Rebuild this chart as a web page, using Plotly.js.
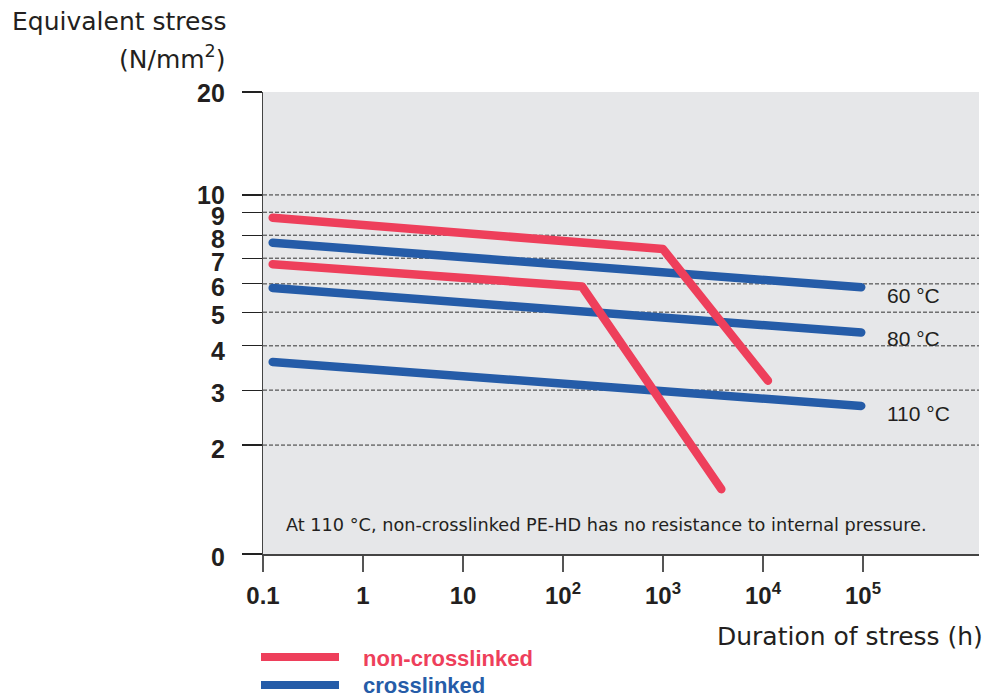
<!DOCTYPE html>
<html>
<head>
<meta charset="utf-8">
<script src="https://cdn.plot.ly/plotly-3.0.1.min.js"></script>
<style>
  html, body { margin: 0; padding: 0; background: #fff; }
  #chart { width: 989px; height: 698px; }
  .js-line { stroke-linecap: round; stroke-linejoin: round; }
</style>
</head>
<body>
<div id="chart"></div>
<script>
// ---- Data ----
// Duration of stress (h) and equivalent stress (N/mm²)
const red60X  = [0.125, 1000, 11200];
const red60Y  = [8.75, 7.38, 3.19];
const red80X  = [0.125, 155, 3830];
const red80Y  = [6.75, 5.90, 1.19];
const blue60X = [0.125, 96000];
const blue60Y = [7.66, 5.87];
const blue80X = [0.125, 96000];
const blue80Y = [5.84, 4.37];
const blue110X = [0.125, 96000];
const blue110Y = [3.60, 2.67];

const xTickVals = [0.1, 1, 10, 100, 1000, 10000, 100000];
const xTickText = ['0.1', '1', '10', '10<sup>2</sup>', '10<sup>3</sup>', '10<sup>4</sup>', '10<sup>5</sup>'];
const yTickVals = [0, 2, 3, 4, 5, 6, 7, 8, 9, 10, 20];
const yTickText = ['0', '2', '3', '4', '5', '6', '7', '8', '9', '10', '20'];
const yGridVals = [2, 3, 4, 5, 6, 7, 8, 9, 10];

// ---- Non-uniform stress scale of the original (tick value -> axis position) ----
const scaleVals = [0, 2, 3, 4, 5, 6, 7, 8, 9, 10, 20];
const scalePos  = [0, 109, 164, 208.3, 242, 270.3, 296, 319, 342, 359.3, 462.3];
function yPos(v) {
  for (let i = 0; i < scaleVals.length - 1; i++) {
    const a = scaleVals[i], b = scaleVals[i + 1];
    if (v <= b || i === scaleVals.length - 2) {
      let f;
      if (a > 0) f = Math.log(v / a) / Math.log(b / a);
      else f = (v - a) / (b - a);
      return scalePos[i] + f * (scalePos[i + 1] - scalePos[i]);
    }
  }
}
// small downward offsets of the y tick labels in the original (px)
const yLabelDrop = [3, 3.5, 3, 5, 2.5, 3, 4, 4, 4, 0, 1];

const RED = '#ee3f5b';
const BLUE = '#255ca8';
const LW = 8.5;

function tr(x, y, color, name) {
  return {
    x: x, y: y.map(yPos), type: 'scatter', mode: 'lines', name: name,
    line: { color: color, width: LW }, cliponaxis: false,
    hoverinfo: 'skip', showlegend: false
  };
}

const data = [
  tr(blue60X, blue60Y, BLUE, 'crosslinked 60 °C'),
  tr(blue80X, blue80Y, BLUE, 'crosslinked 80 °C'),
  tr(blue110X, blue110Y, BLUE, 'crosslinked 110 °C'),
  tr(red60X, red60Y, RED, 'non-crosslinked 60 °C'),
  tr(red80X, red80Y, RED, 'non-crosslinked 80 °C')
];

const TXT = '#231f20';
const FONT = 'Liberation Sans, Arial, sans-serif';
const WIDE = 'DejaVu Sans, Verdana, sans-serif';

// helpers for paper coordinates (plot area: x 263..979, y 92..554)
const PX = px => (px - 263) / 716;
const PY = py => (554 - py) / 462;

const shapes = yGridVals.map(v => ({
  type: 'line', xref: 'paper', yref: 'y', x0: 0, x1: 1, y0: yPos(v), y1: yPos(v),
  line: { color: '#333', width: 1, dash: '4px,2px' }, layer: 'below'
}));
// legend samples
shapes.push({ type: 'line', xref: 'paper', yref: 'paper', x0: PX(261), x1: PX(339), y0: PY(657), y1: PY(657),
  line: { color: RED, width: 8 } });
shapes.push({ type: 'line', xref: 'paper', yref: 'paper', x0: PX(261), x1: PX(339), y0: PY(685), y1: PY(685),
  line: { color: BLUE, width: 8 } });

function ann(text, px, py, anchor, size, family, color) {
  return {
    text: text, xref: 'paper', yref: 'paper', x: PX(px), y: PY(py),
    xanchor: anchor, yanchor: 'middle', showarrow: false,
    font: { family: family || FONT, size: size, color: color || TXT }
  };
}

const annotations = [
  ann('Equivalent stress', 228, 22, 'right', 25, WIDE),
  ann('(N/mm<sup>2</sup>)', 228, 57, 'right', 25, WIDE),
  ann('Duration of stress (h)', 985, 636, 'right', 25, WIDE),
  ann('60 °C', 885, 295, 'left', 21),
  ann('80 °C', 885, 338, 'left', 21),
  ann('110 °C', 885, 413, 'left', 21),
  ann('At 110 °C, non-crosslinked PE-HD has no resistance to internal pressure.', 284, 525, 'left', 17.7, WIDE),
  ann('<b>non-crosslinked</b>', 361, 658, 'left', 22, FONT, RED),
  ann('<b>crosslinked</b>', 361, 686, 'left', 22, FONT, BLUE)
];
// y tick labels
yTickVals.forEach((v, i) => {
  annotations.push({
    text: '<b>' + yTickText[i] + '</b>', xref: 'paper', yref: 'y',
    x: PX(227), y: yPos(v), xanchor: 'right', yanchor: 'middle',
    yshift: -yLabelDrop[i], showarrow: false,
    font: { family: FONT, size: 25, color: TXT }
  });
});

const layout = {
  width: 989, height: 698,
  margin: { l: 263, r: 10, t: 92, b: 144 },
  paper_bgcolor: '#ffffff',
  plot_bgcolor: '#e6e7e9',
  showlegend: false,
  xaxis: {
    type: 'log', range: [-1, 6.16],
    tickvals: xTickVals, ticktext: xTickText,
    showline: true, linecolor: '#444', linewidth: 1.5,
    ticks: 'outside', ticklen: 16, tickcolor: '#555', tickwidth: 1.2,
    showgrid: false, zeroline: false,
    tickfont: { family: FONT, size: 24, color: TXT, weight: 'bold' },
    ticklabelstandoff: 4
  },
  yaxis: {
    range: [0, 462.3],
    tickvals: yTickVals.map(yPos), showticklabels: false,
    showline: true, linecolor: '#444', linewidth: 1.5,
    ticks: 'outside', ticklen: 20, tickcolor: '#222', tickwidth: 1.2,
    showgrid: false, zeroline: false
  },
  shapes: shapes,
  annotations: annotations
};

Plotly.newPlot('chart', data, layout, { displayModeBar: false, staticPlot: true });
</script>
</body>
</html>
